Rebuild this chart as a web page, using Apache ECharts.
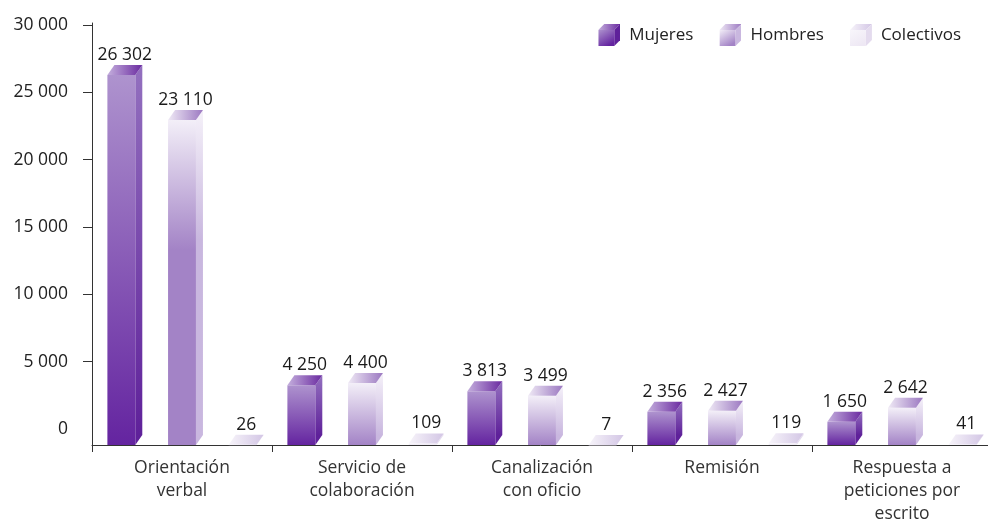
<!DOCTYPE html>
<html>
<head>
<meta charset="utf-8">
<script src="https://cdn.jsdelivr.net/npm/echarts@6/dist/echarts.min.js"></script>
<style>
  html, body { margin: 0; padding: 0; background: #fff; }
  #chart { width: 988px; height: 521px; }
</style>
</head>
<body>
<div id="chart"></div>
<script>
const categories = ['Orientación\nverbal', 'Servicio de\ncolaboración', 'Canalización\ncon oficio', 'Remisión', 'Respuesta a\npeticiones por\nescrito'];
const seriesNames = ['Mujeres', 'Hombres', 'Colectivos'];
const mujeres = [26302, 4250, 3813, 2356, 1650];
const hombres = [23110, 4400, 3499, 2427, 2642];
const colectivos = [26, 109, 7, 119, 41];
const tickMarks = [5000, 10000, 15000, 20000, 25000, 30000]; // no tick drawn at 0

const FONT = '"Open Sans", "Noto Sans", sans-serif';

// colours of each box: front gradient (top -> bottom), top face (left -> right), side (top -> bottom)
const palette = [
  { f1: '#ae93ce', f2: '#6424a0', t1: '#c4afdd', t2: '#6a2aa0', s1: '#9370bf', s2: '#5f219a', glen: 9999 },
  { f1: '#f3eff8', f2: '#a383c6', t1: '#efe9f5', t2: '#9b78c1', s1: '#f5f1f9', s2: '#c9b7df', glen: 130 },
  { f1: '#f8f6fb', f2: '#eee8f4', t1: '#f7f4fa', t2: '#d3c6e5', s1: '#f3eff8', s2: '#e4dbee', glen: 130 }
];
const offsets = [-0.337, 0, 0.337];

function fmt(v) {
  return String(v).replace(/\B(?=(\d{3})+(?!\d))/g, ' ');
}

function cubeIcon(p) {
  const svg = '<svg xmlns="http://www.w3.org/2000/svg" width="22" height="22">' +
    '<defs><linearGradient id="f" x1="0" y1="0" x2="0.6" y2="1"><stop offset="0" stop-color="' + p.f1 + '"/><stop offset="1" stop-color="' + p.f2 + '"/></linearGradient>' +
    '<linearGradient id="t" x1="0" y1="0" x2="1" y2="0"><stop offset="0" stop-color="' + p.t1 + '"/><stop offset="1" stop-color="' + p.t2 + '"/></linearGradient></defs>' +
    '<polygon points="0,6 6,0 22,0 16,6" fill="url(#t)"/>' +
    '<polygon points="16,6 22,0 22,16 16,22" fill="' + p.s2 + '"/>' +
    '<rect x="0" y="6" width="16" height="16" fill="url(#f)"/></svg>';
  return 'image://data:image/svg+xml;charset=utf-8,' + encodeURIComponent(svg);
}

function makeRender(s) {
  const p = palette[s];
  return function (params, api) {
    const cat = api.value(0);
    const val = api.value(1);
    const band = api.size([1, 0])[0];
    const top = api.coord([cat, val]);
    const base = api.coord([cat, 0]);
    const w = band * 0.155;
    const dx = 7, dy = 10;
    const x0 = top[0] + offsets[s] * band - w / 2;
    const yT = top[1], yB = base[1];
    const h = Math.max(yB - yT, 0.5);
    const gh = Math.min(h, p.glen);
    const frontFill = new echarts.graphic.LinearGradient(0, yT, 0, yT + gh, [
      { offset: 0, color: p.f1 }, { offset: 1, color: p.f2 }
    ], true);
    const sideFill = new echarts.graphic.LinearGradient(0, yT - dy, 0, yT - dy + gh, [
      { offset: 0, color: p.s1 }, { offset: 1, color: p.s2 }
    ], true);
    const topFill = new echarts.graphic.LinearGradient(x0, 0, x0 + w + dx, 0, [
      { offset: 0, color: p.t1 }, { offset: 1, color: p.t2 }
    ], true);
    return {
      type: 'group',
      children: [
        { type: 'polygon', shape: { points: [[x0 + w, yT], [x0 + w + dx, yT - dy], [x0 + w + dx, yB - dy], [x0 + w, yB]] }, style: { fill: sideFill } },
        { type: 'rect', shape: { x: x0, y: yT, width: w, height: h }, style: { fill: frontFill } },
        { type: 'polygon', shape: { points: [[x0, yT], [x0 + dx, yT - dy], [x0 + w + dx, yT - dy], [x0 + w, yT]] }, style: { fill: topFill } },
        { type: 'text', style: {
            text: fmt(val), x: x0 + (w + dx) / 2, y: yT - dy - 1,
            align: 'center', verticalAlign: 'bottom',
            fontSize: 17.5, fontFamily: FONT, fill: '#1a1a1a'
          } }
      ]
    };
  };
}

const chart = echarts.init(document.getElementById('chart'));
const lists = [mujeres, hombres, colectivos];

chart.setOption({
  animation: false,
  legend: {
    right: 22,
    top: 19,
    itemWidth: 22,
    itemHeight: 22,
    itemGap: 26,
    textStyle: { fontSize: 17, fontFamily: FONT, color: '#222', padding: [0, 0, 0, 4] },
    data: seriesNames.map((n, i) => ({ name: n, icon: cubeIcon(palette[i]) }))
  },
  grid: [
    { left: 92, right: -4, top: 25, bottom: 92, outerBoundsMode: 'none' },
    { left: 92, right: -4, top: 23, bottom: 76, outerBoundsMode: 'none' }
  ],
  xAxis: [
    { gridIndex: 0, type: 'value', show: false },
    {
      gridIndex: 1, type: 'category', data: categories,
      axisLine: { lineStyle: { color: '#333', width: 1 } },
      axisTick: { show: true, length: 7, lineStyle: { color: '#333' } },
      axisLabel: { fontSize: 17.5, fontFamily: FONT, color: '#333', lineHeight: 23, margin: 12, interval: 0 }
    }
  ],
  yAxis: [
    {
      gridIndex: 0, type: 'value', min: 0, max: 30000, interval: 5000,
      axisLine: { show: false },
      axisTick: { show: true, inside: false, length: 9, customValues: tickMarks, lineStyle: { color: '#333' } },
      splitLine: { show: false },
      axisLabel: { fontSize: 17.5, fontFamily: FONT, color: '#222', margin: 24, formatter: fmt }
    },
    {
      gridIndex: 1, type: 'value', min: 0, max: 30000,
      axisLine: { show: true, lineStyle: { color: '#333', width: 1 } },
      axisTick: { show: false },
      axisLabel: { show: false },
      splitLine: { show: false }
    }
  ],
  series: seriesNames.map((n, s) => ({
    name: n,
    type: 'custom',
    xAxisIndex: 1,
    yAxisIndex: 1,
    clip: false,
    renderItem: makeRender(s),
    encode: { x: 0, y: 1 },
    data: lists[s].map((v, i) => [i, v])
  }))
});
</script>
</body>
</html>
